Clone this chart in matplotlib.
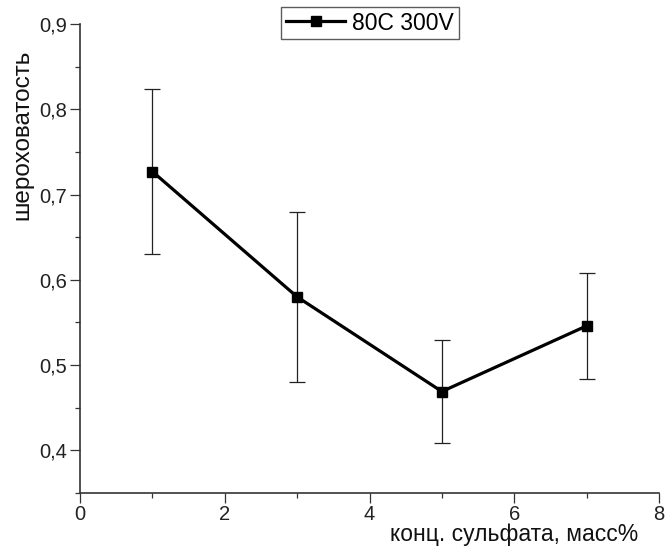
import matplotlib
matplotlib.use('Agg')
import matplotlib.pyplot as plt
from matplotlib.lines import Line2D
from matplotlib.ticker import MultipleLocator, FuncFormatter

conc = [1, 3, 5, 7]
rough = [0.727, 0.580, 0.469, 0.546]
err = [0.097, 0.100, 0.060, 0.062]
series_name = '80C 300V'

plt.rcParams['font.family'] = ['Liberation Sans', 'DejaVu Sans']

fig = plt.figure(figsize=(6.65, 5.48), dpi=100)
ax = fig.add_axes([80/665, 1 - 493/548, 579/665, 469/548])

ax.errorbar(conc, rough, yerr=err, color='black', lw=2.3, marker='s', ms=7,
            elinewidth=0.9, ecolor='#222222', capsize=5.5, capthick=0.9)

ax.set_xlim(0, 8)
ax.set_ylim(0.35, 0.9)
ax.xaxis.set_major_locator(MultipleLocator(2))
ax.xaxis.set_minor_locator(MultipleLocator(1))
ax.yaxis.set_major_locator(MultipleLocator(0.1))
ax.yaxis.set_minor_locator(MultipleLocator(0.05))
ax.yaxis.set_major_formatter(FuncFormatter(lambda v, p: f'{v:.1f}'.replace('.', ',')))
ax.xaxis.set_major_formatter(FuncFormatter(lambda v, p: f'{v:.0f}'))

for s in ['top', 'right']:
    ax.spines[s].set_visible(False)
for s in ['left', 'bottom']:
    ax.spines[s].set_color('#333333')
    ax.spines[s].set_linewidth(1.2)

ax.tick_params(which='major', direction='out', length=7, width=0.9,
               color='#333333', labelsize=14.5, pad=2, labelcolor='#222222')
ax.tick_params(which='minor', direction='out', length=3.5, width=0.9,
               color='#333333')

fig.text(22/665, 1 - 50/548, 'шероховатость', rotation=90, ha='center',
         va='top', fontsize=17.5, color='#111111')
fig.text(638/665, 1 - 546/548, 'конц. сульфата, масс%', ha='right',
         va='bottom', fontsize=16.5, color='#111111')

handle = Line2D([], [], color='black', lw=2.3, marker='s', ms=7)
leg = fig.legend([handle], [series_name], loc='center',
                 bbox_to_anchor=(370/665, 1 - 23/548), fontsize=16.5,
                 frameon=True, fancybox=False, edgecolor='#333333',
                 handlelength=2.6, borderpad=0.2, handletextpad=0.3,
                 borderaxespad=0)
leg.get_frame().set_linewidth(1.0)

fig.savefig('out.png', dpi=100)
